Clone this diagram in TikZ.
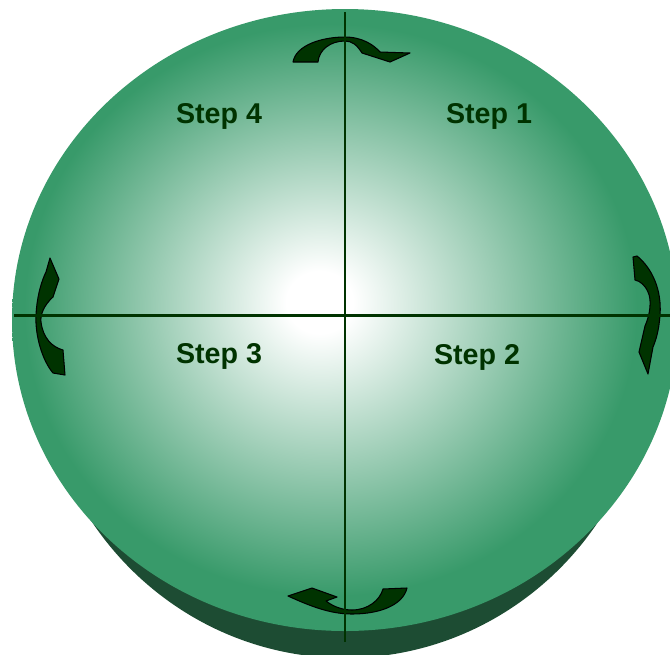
\documentclass[tikz,border=0pt]{standalone}
\usepackage{fontspec}
\setsansfont{Liberation Sans}
\usetikzlibrary{calc}
\definecolor{discgreen}{HTML}{389A6A}
\definecolor{sidegreen}{HTML}{1D4C33}
\definecolor{darkgreen}{HTML}{003300}
\pgfdeclareradialshading{discglow}{\pgfpoint{-2bp}{1.5bp}}{color(0bp)=(white); color(2.5bp)=(white); color(23bp)=(discgreen); color(50bp)=(discgreen)}

\begin{document}
\begin{tikzpicture}[
    x=0.02cm, y=-0.02cm,
    line join=round,
    turnarrow/.style={fill=darkgreen, draw=black, line width=0.6pt},
    axisline/.style={draw=darkgreen, line width=1.7pt},
    steplabel/.style={darkgreen, anchor=base, font=\sffamily\bfseries\fontsize{16.3}{19}\selectfont}
]
    \useasboundingbox (0,0) rectangle (670,654);

    % Cylinder side (bottom ellipse, shifted down)
    \begin{scope}
        \clip (0,0) rectangle (670,654);
        \fill[sidegreen] (345,347) ellipse (306 and 311);

        % Top face with glow
        \shade[shading=discglow] (345,320) ellipse (333 and 311);
    \end{scope}

    % Turning arrows
    \fill[turnarrow] (293,62) .. controls (296,45) and (322,37) .. (345,37)
        .. controls (362,37) and (374,45) .. (380,52) -- (410,53) -- (390,62) -- (362,53)
        .. controls (357,45) and (352,41) .. (345,41)
        .. controls (330,41) and (319,50) .. (318,62) -- cycle;
    \fill[turnarrow] (633,257) -- (637,256) .. controls (652,268) and (662,290) .. (660,315)
        .. controls (659,330) and (656,340) .. (653,347) -- (648,374) -- (639,352) -- (645,326)
        .. controls (650,315) and (652,300) .. (648,292)
        .. controls (645,285) and (640,281) .. (635,280) -- cycle;
    \fill[turnarrow] (288,596) -- (312,588) -- (337,597) -- (326,601)
        .. controls (335,608) and (345,610) .. (352,610)
        .. controls (368,610) and (380,600) .. (383,589) -- (407,588)
        .. controls (403,605) and (380,614) .. (352,614)
        .. controls (330,614) and (310,606) .. (288,596) -- cycle;
    \fill[turnarrow] (50,258) -- (59,279) -- (53,297)
        .. controls (44,305) and (40,315) .. (41,322)
        .. controls (43,338) and (52,347) .. (63,350) -- (65,375) -- (53,373)
        .. controls (42,360) and (35,335) .. (36,315)
        .. controls (37,295) and (42,280) .. (46,272) -- cycle;

    % Axes
    \coordinate (west) at (14,315);
    \coordinate (east) at (670,315);
    \coordinate (north) at (345,12);
    \coordinate (south) at (345,642);
    \draw[axisline] (west) -- (east);
    \draw[axisline] (north) -- (south);

    % Quadrant labels
    \node[steplabel] (step1) at (489,123) {Step 1};
    \node[steplabel] (step2) at (477,364) {Step 2};
    \node[steplabel] (step3) at (219,363) {Step 3};
    \node[steplabel] (step4) at (219,123) {Step 4};

\end{tikzpicture}
\end{document}
